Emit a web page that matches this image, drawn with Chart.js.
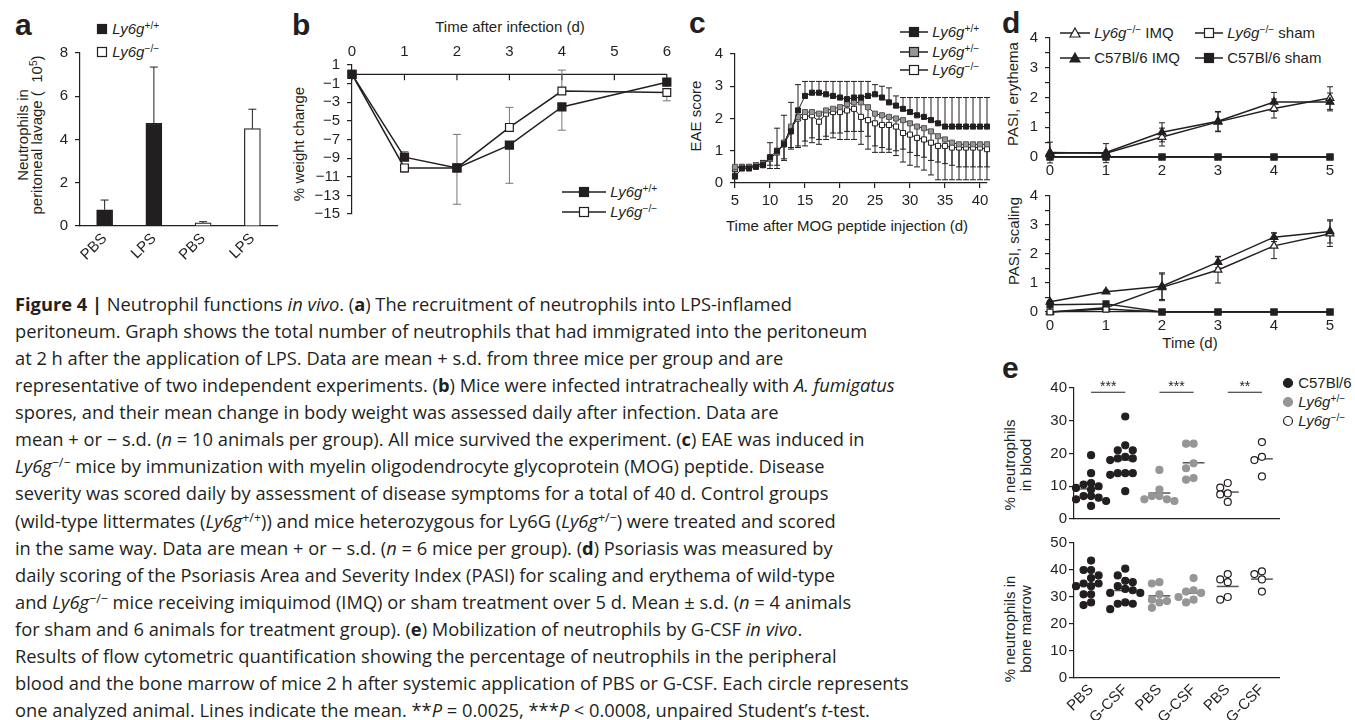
<!DOCTYPE html>
<html>
<head>
<meta charset="utf-8">
<script src="https://cdn.jsdelivr.net/npm/chart.js@4.4.0/dist/chart.umd.min.js"></script>
<style>
  body { margin: 0; width: 1355px; height: 720px; background: #fff; position: relative; overflow: hidden;
         font-family: "Liberation Sans", Arial, Helvetica, sans-serif; color: #231f20; }
  canvas { position: absolute; }
  .t { position: absolute; font-size: 15px; white-space: nowrap; line-height: 1; }
  .lt { position: absolute; font-weight: bold; font-size: 30px; line-height: 30px; }
  .rot { transform: translate(-50%, -50%) rotate(-90deg); text-align: center; }
  .ctr { transform: translate(-50%, -50%); }
  .lg { position: absolute; height: 16px; line-height: 16px; font-size: 15px; white-space: nowrap; }
  .lg svg { vertical-align: middle; margin-top: -2px; }
  sup { font-size: 68%; line-height: 0; vertical-align: 0.5em; font-style: normal; }
  #cap { position: absolute; left: 15px; top: 290px; font-family: "Open Sans", sans-serif; font-size: 18.3px;
         line-height: 27.07px; white-space: nowrap; color: #231f20; }
</style>
</head>
<body>

<div class="lt" style="left:15px;top:10px">a</div>
<div class="lt" style="left:292px;top:10px">b</div>
<div class="lt" style="left:689px;top:8px">c</div>
<div class="lt" style="left:1002px;top:8px">d</div>
<div class="lt" style="left:1002px;top:353px">e</div>

<!-- axis titles -->
<div class="t rot" style="left:30px;top:135px;line-height:14px">Neutrophils in<br>peritoneal lavage (&nbsp;&nbsp;10<sup>5</sup>)</div>
<div class="t rot" style="left:298px;top:144px">% weight change</div>
<div class="t ctr" style="left:510px;top:26px">Time after infection (d)</div>
<div class="t rot" style="left:695px;top:116px">EAE score</div>
<div class="t ctr" style="left:847px;top:225px">Time after MOG peptide injection (d)</div>
<div class="t rot" style="left:1012px;top:94px">PASI, erythema</div>
<div class="t rot" style="left:1013px;top:241px">PASI, scaling</div>
<div class="t ctr" style="left:1190px;top:342px">Time (d)</div>
<div class="t rot" style="left:1018px;top:465px;line-height:16px">% neutrophils<br>in blood</div>
<div class="t rot" style="left:1018px;top:629px;line-height:16px">% neutrophils in<br>bone marrow</div>

<div id="legends"></div>

<div id="cap">
<div><b>Figure 4 |</b> Neutrophil functions <i>in vivo</i>. (<b>a</b>) The recruitment of neutrophils into LPS-inflamed</div>
<div>peritoneum. Graph shows the total number of neutrophils that had immigrated into the peritoneum</div>
<div>at 2 h after the application of LPS. Data are mean + s.d. from three mice per group and are</div>
<div>representative of two independent experiments. (<b>b</b>) Mice were infected intratracheally with <i>A. fumigatus</i></div>
<div>spores, and their mean change in body weight was assessed daily after infection. Data are</div>
<div>mean + or − s.d. (<i>n</i> = 10 animals per group). All mice survived the experiment. (<b>c</b>) EAE was induced in</div>
<div><i>Ly6g</i><sup>−/−</sup> mice by immunization with myelin oligodendrocyte glycoprotein (MOG) peptide. Disease</div>
<div>severity was scored daily by assessment of disease symptoms for a total of 40 d. Control groups</div>
<div>(wild-type littermates (<i>Ly6g</i><sup>+/+</sup>)) and mice heterozygous for Ly6G (<i>Ly6g</i><sup>+/−</sup>) were treated and scored</div>
<div>in the same way. Data are mean + or − s.d. (<i>n</i> = 6 mice per group). (<b>d</b>) Psoriasis was measured by</div>
<div>daily scoring of the Psoriasis Area and Severity Index (PASI) for scaling and erythema of wild-type</div>
<div>and <i>Ly6g</i><sup>−/−</sup> mice receiving imiquimod (IMQ) or sham treatment over 5 d. Mean ± s.d. (<i>n</i> = 4 animals</div>
<div>for sham and 6 animals for treatment group). (<b>e</b>) Mobilization of neutrophils by G-CSF <i>in vivo</i>.</div>
<div>Results of flow cytometric quantification showing the percentage of neutrophils in the peripheral</div>
<div>blood and the bone marrow of mice 2 h after systemic application of PBS or G-CSF. Each circle represents</div>
<div>one analyzed animal. Lines indicate the mean. **<i>P</i> = 0.0025, ***<i>P</i> &lt; 0.0008, unpaired Student’s <i>t</i>-test.</div>
</div>

<script>
// ---- a: peritoneal lavage
const aCats = ['PBS', 'LPS', 'PBS', 'LPS'];
const aMean = [0.75, 4.75, 0.15, 4.5];
const aSd = [0.45, 2.6, 0.05, 0.9];
const aTicks = [0, 2, 4, 6, 8];

// ---- b: weight change
const bDays = [0, 1, 2, 3, 4, 6];
const bWt = [0, -8.9, -10.05, -7.6, -3.5, -0.85];
const bWtUp = [0, 0.6, 3.6, 0, 0, 0];
const bWtDn = [0, 0, 0, 4.1, 2.5, 0];
const bKo = [0, -10.05, -10.05, -5.7, -1.8, -1.95];
const bKoUp = [0, 0, 0, 2.15, 2.25, 0];
const bKoDn = [0, 0.45, 3.9, 0, 0, 0.9];
const bXTicks = [0, 1, 2, 3, 4, 5, 6];
const bYTicks = [1, -1, -3, -5, -7, -9, -11, -13, -15];

// ---- c: EAE score
const cDays = [5, 6, 7, 8, 9, 10, 11, 12, 13, 14, 15, 16, 17, 18, 19, 20, 21, 22, 23, 24,
               25, 26, 27, 28, 29, 30, 31, 32, 33, 34, 35, 36, 37, 38, 39, 40, 41];
const cWt = [0.2, 0.45, 0.45, 0.5, 0.55, 0.8, 1.0, 1.2, 1.6, 2.25,
             2.7, 2.8, 2.8, 2.75, 2.7, 2.65, 2.6, 2.65, 2.65, 2.7,
             2.75, 2.65, 2.5, 2.4, 2.3, 2.2, 2.1, 2.05, 1.95, 1.85,
             1.75, 1.75, 1.75, 1.75, 1.75, 1.75, 1.75];
const cWtSd = [0.1, 0.1, 0.1, 0.1, 0.15, 0.45, 0.7, 0.9, 0.9, 0.8,
               0.45, 0.35, 0.35, 0.4, 0.45, 0.5, 0.55, 0.5, 0.5, 0.45,
               0.3, 0.35, 0.45, 0.3, 0.35, 0.45, 0.55, 0.6, 0.7, 0.8,
               0.9, 0.9, 0.9, 0.9, 0.9, 0.9, 0.9];
const cHet = [0.5, 0.5, 0.5, 0.55, 0.6, 0.75, 0.95, 1.2, 1.75, 2.05,
              2.2, 2.2, 2.15, 2.25, 2.3, 2.35, 2.45, 2.5, 2.5, 2.35,
              2.15, 2.1, 2.05, 2.0, 1.95, 1.85, 1.75, 1.7, 1.6, 1.45,
              1.35, 1.25, 1.2, 1.2, 1.2, 1.2, 1.2];
const cHetSd = [0.1, 0.1, 0.1, 0.1, 0.1, 0.3, 0.5, 0.5, 0.7, 0.9,
                0.9, 0.8, 0.8, 0.8, 0.75, 0.8, 0.85, 0.9, 0.9, 0.9,
                1.0, 1.0, 1.0, 1.0, 0.9, 0.9, 0.9, 0.9, 0.9, 0.8,
                0.75, 0.7, 0.7, 0.7, 0.7, 0.7, 0.7];
const cKo = [0.45, 0.5, 0.5, 0.55, 0.6, 0.75, 0.95, 1.25, 1.7, 2.0,
             2.05, 2.1, 1.9, 2.15, 2.2, 2.2, 2.25, 2.3, 2.05, 1.95,
             1.85, 1.8, 1.8, 1.75, 1.55, 1.5, 1.4, 1.35, 1.25, 1.15,
             1.15, 1.1, 1.1, 1.1, 1.1, 1.1, 1.05];
const cKoSd = [0.1, 0.1, 0.1, 0.1, 0.1, 0.2, 0.4, 0.5, 0.6, 0.9,
               0.9, 0.85, 0.7, 0.8, 0.8, 0.85, 0.9, 0.95, 0.85, 0.9,
               0.9, 0.85, 0.85, 0.9, 0.9, 0.95, 0.9, 0.95, 1.0, 1.05,
               1.05, 1.0, 1.0, 1.0, 1.0, 1.0, 0.95];
const cXTicks = [5, 10, 15, 20, 25, 30, 35, 40];
const cYTicks = [0, 1, 2, 3, 4];

// ---- d: PASI
const dDays = [0, 1, 2, 3, 4, 5];
const dEryKoImq = [0.15, 0.13, 0.67, 1.18, 1.63, 1.98];
const dEryKoImqSd = [0.35, 0.32, 0.3, 0.33, 0.32, 0.38];
const dEryWtImq = [0.13, 0.15, 0.83, 1.2, 1.85, 1.85];
const dEryWtImqSd = [0, 0, 0.32, 0.33, 0.32, 0.3];
const dEryKoSham = [0, 0, 0, 0, 0, 0];
const dEryWtSham = [0, 0, 0, 0, 0, 0];
const dScKoImq = [0.0, 0.15, 0.85, 1.45, 2.28, 2.7];
const dScKoImqSd = [0, 0.1, 0.46, 0.45, 0.44, 0.44];
const dScWtImq = [0.35, 0.7, 0.89, 1.72, 2.58, 2.78];
const dScWtImqSd = [0.05, 0.05, 0.46, 0.2, 0.15, 0.4];
const dScKoSham = [0, 0.1, 0, 0, 0, 0];
const dScWtSham = [0.25, 0.28, 0, 0, 0, 0];
const dYTicks = [0, 0.5, 1, 1.5, 2, 2.5, 3, 3.5, 4];

// ---- e: G-CSF mobilisation (groups: C57 PBS, C57 G-CSF, +/- PBS, +/- G-CSF, -/- PBS, -/- G-CSF)
const eLabels = ['PBS', 'G-CSF', 'PBS', 'G-CSF', 'PBS', 'G-CSF'];
const eTickPos = [0.5, 1.5, 2.5, 3.5, 4.5, 5.5];
const eStars = ['***', '***', '**'];
const eBloodWtPbs = [19.5, 14, 11, 10.5, 10, 9.5, 9, 7, 7, 6.5, 6, 5.5, 4];
const eBloodWtG = [31.3, 22.5, 21, 21, 19, 18.5, 18.5, 18, 14, 14, 14, 13.5, 8.5];
const eBloodHetPbs = [15, 9, 7, 7, 6, 6, 5.5];
const eBloodHetG = [23, 23, 17, 15.5, 12.5, 12];
const eBloodKoPbs = [11, 9.6, 7.8, 7.5, 5.2];
const eBloodKoG = [23.5, 19, 18, 13];
const eBmWtPbs = [43.5, 40, 40, 38, 37, 35, 35, 34, 34, 31, 31, 28, 27];
const eBmWtG = [40.5, 38, 36, 35.5, 34, 33, 32.5, 31.5, 31.5, 28, 27.5, 27.5, 25.5];
const eBmHetPbs = [35.5, 35, 31, 29, 28.5, 28, 26];
const eBmHetG = [37, 32.5, 32, 31.5, 30, 29, 28];
const eBmKoPbs = [38.5, 36.5, 35.5, 30, 29];
const eBmKoG = [39.5, 38.5, 36.5, 32];
const eBloodTicks = [0, 10, 20, 30, 40];
const eBmTicks = [0, 10, 20, 30, 40, 50];

const INK = '#231f20';
const GREY = '#969696';

Chart.defaults.font.family = '"Liberation Sans", Arial, Helvetica, sans-serif';
Chart.defaults.font.size = 15;
Chart.defaults.color = INK;
Chart.defaults.animation = false;
Chart.defaults.plugins.legend.display = false;
Chart.defaults.plugins.tooltip.enabled = false;

const minus = v => String(v).replace('-', '\u2212');
const xy = (xs, ys) => xs.map((x, i) => ({ x, y: ys[i] }));

function makeCanvas(left, top, w, h) {
  const c = document.createElement('canvas');
  c.width = w; c.height = h;
  c.style.left = left + 'px'; c.style.top = top + 'px';
  document.body.appendChild(c);
  return c;
}

// y axis with fixed width and explicit tick list
function yAxis(min, max, ticks, w, pad, cb) {
  return {
    type: 'linear', position: 'left', min, max,
    afterFit: s => { s.width = w; },
    afterBuildTicks: s => { s.ticks = ticks.map(v => ({ value: v })); },
    grid: { drawOnChartArea: false, tickLength: 5, color: INK, lineWidth: 1.2 },
    border: { color: INK, width: 1.2 },
    ticks: { padding: pad, autoSkip: false, callback: cb || (v => minus(v)) }
  };
}

function drawErr(chart) {
  const { ctx } = chart;
  const ys = chart.scales.y;
  chart.data.datasets.forEach((ds, i) => {
    if (!ds.errUp && !ds.errDown) return;
    const meta = chart.getDatasetMeta(i);
    ctx.save();
    ctx.strokeStyle = ds.errColor || INK;
    ctx.lineWidth = 1;
    const cw = ds.capW || 4;
    meta.data.forEach((el, j) => {
      const v = meta.controller.getParsed(j).y;
      const up = ds.errUp ? ds.errUp[j] : 0;
      const dn = ds.errDown ? ds.errDown[j] : 0;
      if (!up && !dn) return;
      const x = el.x, y0 = ys.getPixelForValue(v + up), y1 = ys.getPixelForValue(v - dn);
      ctx.beginPath();
      ctx.moveTo(x, y0); ctx.lineTo(x, y1);
      if (up) { ctx.moveTo(x - cw, y0); ctx.lineTo(x + cw, y0); }
      if (dn) { ctx.moveTo(x - cw, y1); ctx.lineTo(x + cw, y1); }
      ctx.stroke();
    });
    ctx.restore();
  });
}

const errorBars = {
  id: 'errorBars',
  beforeDatasetsDraw(chart, args, opts) { if (!opts.front) drawErr(chart); },
  afterDatasetsDraw(chart, args, opts) { if (opts.front) drawErr(chart); }
};

// x axis drawn along y = 0 with ticks hanging down (panel b)
const zeroAxis = {
  id: 'zeroAxis',
  beforeDatasetsDraw(chart) {
    const { ctx, scales: { x, y } } = chart;
    const py = y.getPixelForValue(0);
    ctx.save();
    ctx.strokeStyle = INK; ctx.lineWidth = 1.2;
    ctx.beginPath();
    ctx.moveTo(x.left, py); ctx.lineTo(x.right, py);
    x.ticks.forEach(t => {
      const px = x.getPixelForValue(t.value);
      ctx.moveTo(px, py); ctx.lineTo(px, py + 6);
    });
    ctx.stroke();
    ctx.restore();
  }
};

// group means and significance bars (panel e)
const groupMarks = {
  id: 'groupMarks',
  beforeDatasetsDraw(chart, args, opts) {
    const { ctx, scales: { x, y } } = chart;
    ctx.save();
    ctx.strokeStyle = '#555'; ctx.lineWidth = 1.5;
    opts.groups.forEach((vals, g) => {
      const m = vals.reduce((a, b) => a + b, 0) / vals.length;
      const py = y.getPixelForValue(m);
      ctx.beginPath();
      ctx.moveTo(x.getPixelForValue(eTickPos[g] - 0.32), py);
      ctx.lineTo(x.getPixelForValue(eTickPos[g] + 0.32), py);
      ctx.stroke();
    });
    if (opts.stars) {
      const py = y.getPixelForValue(opts.sigAt);
      ctx.strokeStyle = INK; ctx.lineWidth = 1.2; ctx.fillStyle = INK;
      ctx.font = '14px "Liberation Sans", Arial, sans-serif';
      ctx.textAlign = 'center'; ctx.textBaseline = 'alphabetic';
      opts.stars.forEach((s, k) => {
        const x0 = x.getPixelForValue(eTickPos[2 * k]), x1 = x.getPixelForValue(eTickPos[2 * k + 1]);
        ctx.beginPath(); ctx.moveTo(x0, py); ctx.lineTo(x1, py); ctx.stroke();
        ctx.fillText(s, (x0 + x1) / 2, py - 1);
      });
    }
    ctx.restore();
  }
};

// spread equal-ish values sideways so dots do not overlap
function swarm(vals, center, dy) {
  const placed = [];
  const out = new Array(vals.length);
  const order = vals.map((v, i) => i).sort((a, b) => vals[b] - vals[a]);
  order.forEach(i => {
    const v = vals[i];
    for (const k of [0, -1, 1, -2, 2, -3, 3, -4, 4]) {
      const off = k * 0.22;
      if (!placed.some(p => Math.abs(p.off - off) < 0.2 && Math.abs(p.v - v) < dy)) {
        placed.push({ off, v });
        out[i] = { x: center + off, y: v };
        return;
      }
    }
    out[i] = { x: center, y: v };
  });
  return out;
}

// ================= panel a =================
new Chart(makeCanvas(0, 37, 285, 225), {
  type: 'bar',
  data: {
    labels: aCats,
    datasets: [{
      data: aMean,
      backgroundColor: [INK, INK, '#fff', '#fff'],
      borderColor: INK, borderWidth: 1.2, barThickness: 16,
      errUp: aSd, capW: 4
    }]
  },
  options: {
    responsive: false, devicePixelRatio: 1,
    layout: { padding: { top: 10, right: 8, left: 0, bottom: 0 } },
    plugins: { errorBars: { front: true } },
    scales: {
      x: {
        afterFit: s => { s.height = 36; },
        grid: { display: false, drawTicks: false },
        border: { color: INK, width: 1.2 },
        ticks: { minRotation: 45, maxRotation: 45, padding: 4, autoSkip: false }
      },
      y: yAxis(0, 8, aTicks, 80, 7)
    }
  },
  plugins: [errorBars]
});

// ================= panel b =================
new Chart(makeCanvas(290, 35, 385, 195), {
  type: 'line',
  data: {
    datasets: [
      { data: xy(bDays, bWt), borderColor: INK, borderWidth: 1.5, pointStyle: 'rect', pointRadius: 5.5,
        pointBackgroundColor: INK, pointBorderColor: INK, errUp: bWtUp, errDown: bWtDn, errColor: '#777', clip: false },
      { data: xy(bDays, bKo), borderColor: INK, borderWidth: 1.5, pointStyle: 'rect', pointRadius: 5.5,
        pointBackgroundColor: '#fff', pointBorderColor: INK, pointBorderWidth: 1.2,
        errUp: bKoUp, errDown: bKoDn, errColor: '#777', clip: false }
    ]
  },
  options: {
    responsive: false, devicePixelRatio: 1,
    layout: { padding: { top: 0, right: 8, left: 0, bottom: 6 } },
    scales: {
      x: {
        type: 'linear', position: 'top', min: 0, max: 6,
        afterFit: s => { s.height = 30; },
        afterBuildTicks: s => { s.ticks = bXTicks.map(v => ({ value: v })); },
        grid: { display: false, drawTicks: false },
        border: { display: false },
        ticks: { padding: 4 }
      },
      y: yAxis(-15, 1, bYTicks, 62, 7)
    }
  },
  plugins: [zeroAxis, errorBars]
});

// ================= panel c =================
const cLine = { borderColor: INK, borderWidth: 1, pointStyle: 'rect', pointRadius: 3.6, pointBorderWidth: 1, clip: false };
new Chart(makeCanvas(690, 38, 305, 180), {
  type: 'line',
  data: {
    datasets: [
      Object.assign({ data: xy(cDays, cWt), pointBackgroundColor: INK, pointBorderColor: INK, errUp: cWtSd, capW: 3 }, cLine),
      Object.assign({ data: xy(cDays, cHet), pointBackgroundColor: GREY, pointBorderColor: '#555', errDown: cHetSd, capW: 3 }, cLine),
      Object.assign({ data: xy(cDays, cKo), pointBackgroundColor: '#fff', pointBorderColor: INK, errDown: cKoSd, capW: 3 }, cLine)
    ]
  },
  options: {
    responsive: false, devicePixelRatio: 1,
    layout: { padding: { top: 10, right: 8, left: 0, bottom: 0 } },
    scales: {
      x: {
        type: 'linear', min: 5, max: 41,
        afterFit: s => { s.height = 35; },
        afterBuildTicks: s => { s.ticks = cXTicks.map(v => ({ value: v })); },
        grid: { drawOnChartArea: false, tickLength: 5, color: INK, lineWidth: 1.2 },
        border: { color: INK, width: 1.2 },
        ticks: { padding: 4 }
      },
      y: yAxis(0, 4, cYTicks, 45, 7)
    }
  },
  plugins: [errorBars]
});

// ================= panel d =================
function pasiChart(top, h, xh, koImq, koImqSd, wtImq, wtImqSd, koSham, wtSham) {
  const base = { borderColor: INK, borderWidth: 1.5, pointBorderColor: INK, pointBorderWidth: 1.2, clip: false, capW: 3 };
  return new Chart(makeCanvas(1015, top, 330, h), {
    type: 'line',
    data: {
      datasets: [
        Object.assign({ data: xy(dDays, wtSham), pointStyle: 'rect', pointRadius: 4.2, pointBackgroundColor: INK }, base),
        Object.assign({ data: xy(dDays, koSham), pointStyle: 'rect', pointRadius: 4.2, pointBackgroundColor: '#fff' }, base),
        Object.assign({ data: xy(dDays, wtImq), pointStyle: 'triangle', pointRadius: 4.5, pointBackgroundColor: INK,
                        errUp: wtImqSd, errDown: wtImqSd }, base),
        Object.assign({ data: xy(dDays, koImq), pointStyle: 'triangle', pointRadius: 4.5, pointBackgroundColor: '#fff',
                        errUp: koImqSd, errDown: koImqSd }, base)
      ]
    },
    options: {
      responsive: false, devicePixelRatio: 1,
      layout: { padding: { top: 10, right: 15, left: 0, bottom: 0 } },
      scales: {
        x: {
          type: 'linear', min: 0, max: 5,
          afterFit: s => { s.height = xh; },
          afterBuildTicks: s => { s.ticks = dDays.map(v => ({ value: v })); },
          grid: { display: false, drawTicks: false },
          border: { color: INK, width: 1.2 },
          ticks: { padding: 5 }
        },
        y: yAxis(0, 4, dYTicks, 35, 7, v => (Number.isInteger(v) ? v : ''))
      }
    },
    plugins: [errorBars]
  });
}
pasiChart(22, 155, 20, dEryKoImq, dEryKoImqSd, dEryWtImq, dEryWtImqSd, dEryKoSham, dEryWtSham);
pasiChart(180, 154, 22, dScKoImq, dScKoImqSd, dScWtImq, dScWtImqSd, dScKoSham, dScWtSham);

// ================= panel e =================
function dotChart(top, h, xh, groups, ymax, ticks, dy, showLabels, stars) {
  const pts = g => swarm(groups[g], eTickPos[g], dy);
  const dot = { pointRadius: 3.5, pointBorderWidth: 1.2, clip: false };
  return new Chart(makeCanvas(1035, top, 250, h), {
    type: 'scatter',
    data: {
      datasets: [
        Object.assign({ data: pts(0).concat(pts(1)), pointBackgroundColor: INK, pointBorderColor: INK }, dot),
        Object.assign({ data: pts(2).concat(pts(3)), pointBackgroundColor: GREY, pointBorderColor: GREY }, dot),
        Object.assign({ data: pts(4).concat(pts(5)), pointBackgroundColor: '#fff', pointBorderColor: INK }, dot)
      ]
    },
    options: {
      responsive: false, devicePixelRatio: 1,
      layout: { padding: { top: 10, right: 6, left: 0, bottom: 0 } },
      plugins: { groupMarks: { groups, stars, sigAt: 38.7 } },
      scales: {
        x: {
          type: 'linear', min: 0, max: 6,
          afterFit: s => { s.height = xh; },
          afterBuildTicks: s => { s.ticks = eTickPos.map(v => ({ value: v })); },
          grid: { display: false, drawTicks: false },
          border: { color: INK, width: 1.2 },
          ticks: { display: showLabels, minRotation: 45, maxRotation: 45, padding: 3, autoSkip: false,
                   callback: (v, i) => eLabels[i] }
        },
        y: yAxis(0, ymax, ticks, 39, 2)
      }
    },
    plugins: [groupMarks]
  });
}
dotChart(377, 153, 5, [eBloodWtPbs, eBloodWtG, eBloodHetPbs, eBloodHetG, eBloodKoPbs, eBloodKoG],
         40, eBloodTicks, 2.0, false, eStars);
dotChart(532, 188, 42, [eBmWtPbs, eBmWtG, eBmHetPbs, eBmHetG, eBmKoPbs, eBmKoG],
         50, eBmTicks, 2.6, true, null);

// ================= HTML legends =================
function mk(shape, fill, lineW) {
  const w = lineW || 12, cx = w / 2, cy = 7;
  let m = '';
  if (shape === 'rect') m = `<rect x="${cx - 4.5}" y="${cy - 4.5}" width="9" height="9" fill="${fill}" stroke="${INK}" stroke-width="1.2"/>`;
  if (shape === 'tri') m = `<polygon points="${cx},${cy - 5} ${cx + 5},${cy + 4} ${cx - 5},${cy + 4}" fill="${fill}" stroke="${INK}" stroke-width="1.2"/>`;
  if (shape === 'circ') m = `<circle cx="${cx}" cy="${cy}" r="4.5" fill="${fill}" stroke="${fill === GREY ? GREY : INK}" stroke-width="1.2"/>`;
  const ln = lineW ? `<line x1="0" y1="${cy}" x2="${w}" y2="${cy}" stroke="${INK}" stroke-width="1.5"/>` : '';
  return `<svg width="${w}" height="14">${ln}${m}</svg>`;
}
const ly = s => `<i>Ly6g</i><sup>${s}</sup>`;
const legendRows = [
  [96, 21, mk('rect', INK), ly('+/+')],
  [96, 44, mk('rect', '#fff'), ly('−/−')],
  [562, 184, mk('rect', INK, 44), ly('+/+')],
  [562, 204, mk('rect', '#fff', 44), ly('−/−')],
  [900, 24, mk('rect', INK, 28), ly('+/+')],
  [900, 44, mk('rect', GREY, 28), ly('+/−')],
  [900, 62, mk('rect', '#fff', 28), ly('−/−')],
  [1060, 25, mk('tri', '#fff', 30), ly('−/−') + ' IMQ'],
  [1060, 50, mk('tri', INK, 30), 'C57Bl/6 IMQ'],
  [1195, 25, mk('rect', '#fff', 28), ly('−/−') + ' sham'],
  [1195, 50, mk('rect', INK, 28), 'C57Bl/6 sham'],
  [1282, 375, mk('circ', INK), 'C57Bl/6'],
  [1282, 394, mk('circ', GREY), ly('+/−')],
  [1282, 413, mk('circ', '#fff'), ly('−/−')]
];
const lgBox = document.getElementById('legends');
legendRows.forEach(r => {
  const d = document.createElement('div');
  d.className = 'lg';
  d.style.left = r[0] + 'px'; d.style.top = r[1] + 'px';
  d.innerHTML = r[2] + '&nbsp;' + r[3];
  lgBox.appendChild(d);
});
</script>
</body>
</html>
